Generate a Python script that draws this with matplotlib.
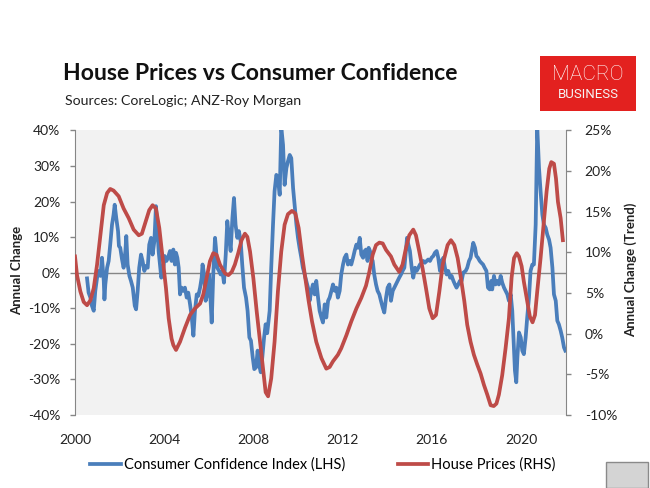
import matplotlib
matplotlib.use("Agg")
import matplotlib.pyplot as plt
from matplotlib.patches import Rectangle
from matplotlib.ticker import FuncFormatter

plt.rcParams['font.family'] = ['Lato', 'DejaVu Sans']

# House prices, annual change (trend), RHS
hp_year = [2000.00, 2000.09, 2000.24, 2000.39, 2000.54, 2000.69, 2000.84, 2000.99, 2001.14, 2001.29,
           2001.44, 2001.58, 2001.73, 2001.96, 2002.18, 2002.41, 2002.63, 2002.86, 2003.00, 2003.15,
           2003.33, 2003.48, 2003.63, 2003.78, 2003.93, 2004.08, 2004.20, 2004.33, 2004.41, 2004.53,
           2004.71, 2004.93, 2005.16, 2005.38, 2005.61, 2005.75, 2005.90, 2006.05, 2006.20, 2006.35,
           2006.50, 2006.73, 2006.88, 2007.03, 2007.17, 2007.32, 2007.47, 2007.62, 2007.73, 2007.85,
           2008.00, 2008.15, 2008.30, 2008.45, 2008.55, 2008.66, 2008.80, 2008.95, 2009.10, 2009.25,
           2009.40, 2009.55, 2009.73, 2009.88, 2010.03, 2010.18, 2010.33, 2010.48, 2010.63, 2010.82,
           2011.05, 2011.27, 2011.42, 2011.57, 2011.79, 2011.94, 2012.17, 2012.39, 2012.62, 2012.84,
           2013.05, 2013.20, 2013.35, 2013.50, 2013.65, 2013.80, 2013.95, 2014.17, 2014.32, 2014.54,
           2014.69, 2014.84, 2014.99, 2015.17, 2015.29, 2015.44, 2015.59, 2015.74, 2015.89, 2016.04,
           2016.19, 2016.34, 2016.49, 2016.71, 2016.86, 2017.01, 2017.16, 2017.31, 2017.46, 2017.59,
           2017.74, 2017.89, 2018.04, 2018.19, 2018.34, 2018.49, 2018.64, 2018.78, 2018.90, 2019.01,
           2019.16, 2019.31, 2019.46, 2019.58, 2019.69, 2019.81, 2019.91, 2020.03, 2020.13, 2020.28,
           2020.40, 2020.52, 2020.63, 2020.73, 2020.88, 2021.03, 2021.15, 2021.27, 2021.36, 2021.48,
           2021.57, 2021.66, 2021.78, 2021.88]
hp_val = [9.5, 7.2, 5.2, 3.9, 3.5, 4.1, 5.6, 8.5, 12.1, 15.8,
          17.3, 17.8, 17.6, 16.9, 15.4, 14.2, 12.8, 12.1, 12.3, 13.6,
          15.2, 15.8, 15.4, 13.0, 9.3, 5.6, 1.9, -0.6, -1.4, -2.0,
          -1.0, 0.7, 2.3, 3.1, 3.7, 4.8, 6.8, 8.9, 9.9, 9.7,
          8.5, 7.4, 7.2, 7.6, 8.5, 9.9, 11.5, 12.3, 11.9, 10.1,
          6.8, 2.7, -1.0, -4.7, -7.2, -7.7, -5.5, -1.0, 5.2, 10.1,
          13.4, 14.7, 15.1, 14.8, 13.0, 9.7, 6.8, 4.0, 1.5, -1.0,
          -3.0, -4.3, -4.1, -3.4, -2.6, -1.8, -0.2, 1.5, 3.1, 4.4,
          5.9, 7.6, 9.7, 10.9, 11.2, 11.1, 10.3, 9.5, 8.5, 7.6,
          8.5, 10.5, 12.1, 12.8, 12.1, 10.1, 8.0, 5.6, 3.1, 1.9,
          2.3, 5.2, 8.5, 10.9, 11.5, 10.9, 9.3, 6.8, 4.0, 1.1,
          -1.0, -2.6, -3.8, -4.9, -6.3, -7.5, -8.8, -8.9, -8.6, -7.5,
          -5.1, -1.8, 1.9, 6.9, 9.3, 9.9, 9.5, 8.3, 6.4, 4.0,
          2.1, 1.4, 2.3, 5.2, 9.3, 13.8, 17.5, 20.3, 21.1, 20.9,
          19.1, 16.2, 14.2, 11.5]

# Consumer confidence index, annual change, LHS
cc_year = [2000.54, 2000.61, 2000.69, 2000.76, 2000.84, 2000.91, 2000.99, 2001.06, 2001.14, 2001.21,
           2001.29, 2001.32, 2001.36, 2001.44, 2001.51, 2001.58, 2001.66, 2001.73, 2001.78, 2001.85,
           2001.93, 2001.97, 2002.03, 2002.11, 2002.18, 2002.26, 2002.30, 2002.36, 2002.44, 2002.51,
           2002.59, 2002.68, 2002.74, 2002.81, 2002.88, 2002.96, 2003.03, 2003.11, 2003.18, 2003.26,
           2003.33, 2003.41, 2003.48, 2003.56, 2003.63, 2003.69, 2003.75, 2003.81, 2003.87, 2003.95,
           2004.02, 2004.10, 2004.17, 2004.26, 2004.33, 2004.41, 2004.48, 2004.53, 2004.59, 2004.65,
           2004.71, 2004.78, 2004.86, 2004.93, 2005.01, 2005.08, 2005.16, 2005.23, 2005.31, 2005.38,
           2005.46, 2005.53, 2005.61, 2005.68, 2005.72, 2005.78, 2005.86, 2005.93, 2006.01, 2006.08,
           2006.13, 2006.20, 2006.28, 2006.32, 2006.38, 2006.46, 2006.53, 2006.61, 2006.68, 2006.76,
           2006.83, 2006.91, 2006.98, 2007.06, 2007.13, 2007.20, 2007.28, 2007.35, 2007.43, 2007.50,
           2007.58, 2007.67, 2007.74, 2007.82, 2007.89, 2007.97, 2008.04, 2008.12, 2008.19, 2008.25,
           2008.33, 2008.40, 2008.48, 2008.55, 2008.62, 2008.68, 2008.73, 2008.80, 2008.88, 2008.95,
           2009.03, 2009.10, 2009.18, 2009.25, 2009.33, 2009.40, 2009.48, 2009.55, 2009.63, 2009.70,
           2009.78, 2009.85, 2009.93, 2010.00, 2010.07, 2010.15, 2010.22, 2010.30, 2010.37, 2010.45,
           2010.52, 2010.60, 2010.67, 2010.75, 2010.82, 2010.90, 2010.97, 2011.05, 2011.12, 2011.20,
           2011.27, 2011.35, 2011.42, 2011.50, 2011.57, 2011.65, 2011.72, 2011.79, 2011.87, 2011.94,
           2012.02, 2012.09, 2012.17, 2012.24, 2012.32, 2012.39, 2012.47, 2012.54, 2012.62, 2012.69,
           2012.77, 2012.84, 2012.92, 2012.99, 2013.05, 2013.12, 2013.17, 2013.23, 2013.29, 2013.35,
           2013.42, 2013.50, 2013.57, 2013.65, 2013.72, 2013.80, 2013.87, 2013.95, 2014.02, 2014.10,
           2014.17, 2014.25, 2014.32, 2014.39, 2014.47, 2014.54, 2014.62, 2014.69, 2014.77, 2014.84,
           2014.89, 2014.95, 2015.02, 2015.10, 2015.17, 2015.25, 2015.32, 2015.40, 2015.47, 2015.55,
           2015.62, 2015.69, 2015.77, 2015.84, 2015.92, 2015.99, 2016.07, 2016.14, 2016.22, 2016.29,
           2016.37, 2016.44, 2016.52, 2016.59, 2016.67, 2016.74, 2016.82, 2016.89, 2016.97, 2017.04,
           2017.11, 2017.19, 2017.26, 2017.34, 2017.41, 2017.52, 2017.59, 2017.67, 2017.74, 2017.82,
           2017.86, 2017.94, 2018.00, 2018.07, 2018.15, 2018.22, 2018.30, 2018.37, 2018.45, 2018.52,
           2018.60, 2018.67, 2018.71, 2018.79, 2018.86, 2018.94, 2019.01, 2019.09, 2019.16, 2019.24,
           2019.31, 2019.39, 2019.46, 2019.54, 2019.61, 2019.69, 2019.73, 2019.79, 2019.84, 2019.91,
           2019.99, 2020.06, 2020.13, 2020.21, 2020.28, 2020.36, 2020.43, 2020.51, 2020.58, 2020.66,
           2020.73, 2020.81, 2020.88, 2020.96, 2021.03, 2021.11, 2021.18, 2021.26, 2021.33, 2021.41,
           2021.48, 2021.56, 2021.63, 2021.70, 2021.78, 2021.85, 2021.93, 2021.99]
cc_val = [-1.6, -5.6, -7.0, -9.3, -10.7, -5.1, -1.4, 0.5, -0.9, 4.2,
          -2.3, -7.5, -3.3, 1.4, 3.3, 7.9, 13.5, 16.3, 19.1, 15.4,
          11.7, 7.5, 7.0, 3.7, 1.4, 6.1, 10.3, 2.3, -0.9, -2.3,
          -4.2, -9.3, -10.3, -5.1, 1.4, 5.1, 3.3, 0.5, 1.9, 1.4,
          7.9, 9.8, 5.1, 8.9, 18.7, 13.5, 6.1, 2.3, -1.4, 0.5,
          4.7, 3.3, 4.2, 6.1, 3.3, 6.5, 2.3, 5.6, 4.2, 1.4,
          -6.1, -4.2, -5.1, -4.2, -7.0, -5.6, -8.9, -12.1, -17.7, -10.7,
          -6.1, -6.5, -4.2, -1.4, 2.3, 0.0, -7.9, -6.1, -0.5, -7.9,
          -14.0, -0.5, 9.8, 7.0, 1.4, 0.5, -0.5, 0.5, -2.8, 5.1,
          14.5, 9.8, 6.1, 15.4, 21.0, 13.5, 9.8, 11.7, 8.9, 2.3,
          -4.2, -7.0, -10.7, -18.2, -19.1, -23.8, -27.1, -26.6, -21.9, -25.7,
          -28.0, -23.8, -18.2, -14.5, -17.0, -13.5, -10.7, 1.4, 13.5, 22.9,
          27.5, 26.6, 21.9, 41.0, 35.9, 24.7, 29.4, 31.3, 33.1, 32.2,
          23.8, 19.1, 13.5, 9.8, 7.0, 4.2, 1.4, -0.5, -2.3, -4.2,
          -7.9, -5.1, -3.3, -6.1, -2.3, -7.0, -10.7, -12.6, -14.0, -8.9,
          -12.6, -7.9, -7.0, -5.1, -3.3, -5.1, -4.2, -7.0, -5.1, -0.5,
          2.3, 4.2, 5.1, 2.3, 3.3, 2.3, 4.2, 6.1, 7.9, 7.0,
          9.8, 5.1, 4.2, 6.1, 6.5, 3.3, 7.0, 6.1, 4.2, 3.3,
          -0.5, -3.3, -5.1, -6.1, -7.9, -9.8, -11.2, -7.0, -4.2, -3.3,
          -7.9, -5.1, -4.2, -3.3, -2.3, -1.4, -0.5, 0.5, 1.4, 6.1,
          9.8, 7.9, 6.1, 1.4, -1.4, 1.4, 0.5, 1.4, 2.3, 2.8,
          3.3, 2.8, 3.3, 3.7, 3.3, 4.2, 4.7, 5.6, 6.1, 4.2,
          0.5, 3.3, 4.2, 1.4, -0.5, 0.5, -1.4, -0.9, -2.3, -3.3,
          -4.2, -3.3, -2.3, -2.3, 0.0, 0.5, 1.4, 3.3, 4.2, 7.0,
          8.4, 7.0, 4.7, 4.2, 3.3, 2.8, 2.3, 1.4, 0.5, -4.2,
          -4.7, -2.3, -4.7, -0.9, -3.3, -2.3, -3.3, -0.9, -2.8, -4.2,
          -5.1, -6.1, -7.9, -6.1, -10.7, -21.9, -27.5, -30.8, -23.8, -16.8,
          -18.2, -21.9, -22.9, -18.2, -12.6, -7.0, 0.5, 2.3, 2.3, 13.5,
          41.0, 29.4, 22.9, 16.3, 13.5, 12.6, 10.7, 9.3, 7.0, 1.4,
          -6.1, -7.9, -13.5, -14.5, -16.3, -18.2, -21.0, -21.9]

year_ticks = [2000, 2004, 2008, 2012, 2016, 2020]
blue = '#4a7ebb'
red = '#be4b48'
grey = '#868686'

W, H = 650, 488
fig = plt.figure(figsize=(W / 100, H / 100), dpi=100)
ax = fig.add_axes([75 / W, 73 / H, 491 / W, 284.6 / H])
ax.set_facecolor('#f2f2f2')
ax2 = ax.twinx()

ax.axhline(0, color=grey, lw=1.0, zorder=1)
l1, = ax.plot(cc_year, cc_val, color=blue, lw=2.7, zorder=3,
              solid_joinstyle='round', label='Consumer Confidence Index (LHS)')
l2, = ax2.plot(hp_year, hp_val, color=red, lw=2.7, zorder=3,
               solid_joinstyle='round', label='House Prices (RHS)')

ax.set_xlim(2000, 2022.02)
ax.set_ylim(-40, 40)
ax2.set_ylim(-10, 25)
ax.set_yticks(range(-40, 41, 10))
ax2.set_yticks(range(-10, 26, 5))
pct = FuncFormatter(lambda v, p: f'{v:.0f}%')
ax.yaxis.set_major_formatter(pct)
ax2.yaxis.set_major_formatter(pct)
ax.set_xticks(year_ticks)
ax.set_xticklabels([str(y) for y in year_ticks])

for a in (ax, ax2):
    for s in ('top', 'bottom'):
        a.spines[s].set_visible(False)
ax.spines['right'].set_visible(False)
ax2.spines['left'].set_visible(False)
ax.spines['left'].set_color(grey)
ax2.spines['right'].set_color(grey)

ax.tick_params(axis='y', length=3.5, width=1, color=grey, pad=7, labelsize=10, labelcolor='#222222')
ax2.tick_params(axis='y', length=3.5, width=1, color=grey, pad=10, labelsize=10, labelcolor='#222222')
ax.tick_params(axis='x', length=0, pad=14, labelsize=10, labelcolor='#222222')

fig.text(17 / W, 1 - 270 / H, 'Annual Change', rotation=90, ha='center', va='center',
         fontsize=9.5, fontweight='bold', color='#222222')
fig.text(631 / W, 1 - 270 / H, 'Annual Change (Trend)', rotation=90, ha='center', va='center',
         fontsize=9.5, fontweight='bold', color='#222222')

fig.text(63 / W, 1 - 73 / H, 'House Prices vs Consumer Confidence', ha='left', va='center',
         fontsize=16.6, fontweight='bold', color='#111111')
fig.text(65 / W, 1 - 101 / H, 'Sources: CoreLogic; ANZ-Roy Morgan', ha='left', va='center',
         fontsize=10.2, color='#222222')

# MacroBusiness logo
fig.patches.append(Rectangle((540 / W, 1 - 111 / H), 96 / W, 55 / H, transform=fig.transFigure,
                             facecolor='#e3211f', edgecolor='none'))
fig.text(588 / W, 1 - 75 / H, 'MACRO', ha='center', va='center', fontsize=15,
         color='white', family='Roboto', fontweight='light')
fig.text(588 / W, 1 - 95 / H, 'BUSINESS', ha='center', va='center', fontsize=9.5,
         color='#f4f4f4', family='Roboto')

# small wolf badge bottom-right
fig.patches.append(Rectangle((606 / W, 0), 42 / W, 26 / H, transform=fig.transFigure,
                             facecolor='#d4d4d4', edgecolor='#8a8a8a', lw=1))

fig.legend(handles=[l1, l2], loc='center', bbox_to_anchor=(323 / W, 1 - 465 / H), ncol=2,
           frameon=False, fontsize=10.5, handlelength=2.1, handletextpad=0.2, columnspacing=3.6)

fig.savefig('out.png', dpi=100)
